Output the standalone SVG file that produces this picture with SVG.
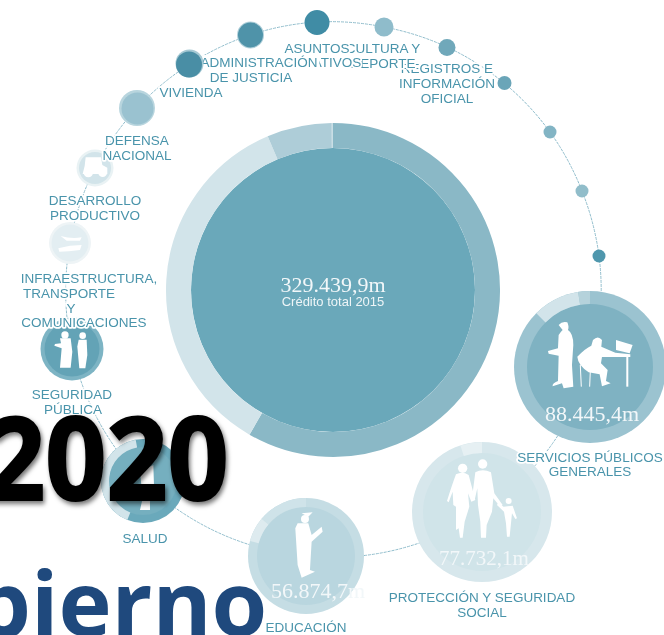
<svg xmlns="http://www.w3.org/2000/svg" width="664" height="635" viewBox="0 0 664 635">
<style>
.lb{font-family:"Liberation Sans",Arial,sans-serif;font-size:13.5px;fill:#4a94ab;text-anchor:middle;paint-order:stroke;stroke:#fff;stroke-width:3.5px;stroke-linejoin:round}
.num{font-family:"Liberation Serif","Times New Roman",serif;font-size:22px;fill:#f2f7f9;text-anchor:middle}
.ic{fill:#fff}
.seg{fill:none}
.conn path{fill:none;stroke:#8fbccb;stroke-width:1;stroke-dasharray:3 1}
</style>
<defs>
<filter id="soft" x="-2%" y="-2%" width="104%" height="104%"><feGaussianBlur stdDeviation="0.35"/></filter>
<filter id="sh" x="-10%" y="-10%" width="120%" height="130%"><feDropShadow dx="2" dy="3" stdDeviation="2.5" flood-color="#000" flood-opacity=".55"/></filter>
</defs>
<rect width="664" height="635" fill="#fff"/>
<g filter="url(#soft)">
<g id="connectors" class="conn">
<path d="M190 64A268 268 0 0 1 250 35"/>
<path d="M250 35A268 268 0 0 1 317 22"/>
<path d="M317 22A268 268 0 0 1 384 27"/>
<path d="M384 27A268 268 0 0 1 447 47"/>
<path d="M447 47A268 268 0 0 1 504 83"/>
<path d="M504 83A268 268 0 0 1 550 132"/>
<path d="M550 132A268 268 0 0 1 582 191"/>
<path d="M582 191A268 268 0 0 1 599 256"/>
<path d="M599 256A268 268 0 0 1 590 367"/>
<path d="M590 367A268 268 0 0 1 482 512"/>
<path d="M482 512A268 268 0 0 1 306 556"/>
<path d="M306 556A268 268 0 0 1 143 481"/>
<path d="M143 481A268 268 0 0 1 72 349"/>
<path d="M72 349A268 268 0 0 1 70 243"/>
<path d="M70 243A268 268 0 0 1 95 168"/>
<path d="M95 168A268 268 0 0 1 137 108"/>
<path d="M137 108A268 268 0 0 1 190 64"/>
</g>
<g id="total">
<circle cx="333" cy="290" r="142" fill="#6aa8ba"/>
<g class="seg" stroke-width="25">
<path d="M331.500 135.500A154.500 154.500 0 0 1 334 135.500" stroke="#c9dee5"/>
<path d="M333 135.500A154.500 154.500 0 1 1 255.750 423.800" stroke="#8ab8c6"/>
<path d="M255.750 423.800A154.500 154.500 0 0 1 272.600 147.800" stroke="#d2e4ea"/>
<path d="M272.600 147.800A154.500 154.500 0 0 1 331.700 135.500" stroke="#aecdd8"/>
</g>
<text class="num" x="333" y="292">329.439,9m</text>
<text x="333" y="306" font-family="Liberation Sans,Arial,sans-serif" font-size="13" fill="#eef5f7" text-anchor="middle">Crédito total 2015</text>
</g>
<g id="node-proteccion">
<circle cx="482" cy="512" r="70" fill="#d7e7ec"/>
<circle cx="482" cy="512" r="59" fill="#d0e4e9"/>
<path class="seg" d="M462.100 450.700A64.500 64.500 0 0 1 482 447.500" stroke="#e6f0f3" stroke-width="11"/>
<g class="ic" transform="translate(332 315) scale(.3333)">
<circle cx="392" cy="460" r="14"/><path d="M372 478Q392 468 410 480L422 525L430 555L418 560L408 535L412 575L398 620L392 668L384 668L380 640L372 645L372 575L364 570L362 530L350 562L345 558Q360 510 372 478Z"/>
<circle cx="452" cy="447" r="14"/><path d="M430 472Q452 460 477 472L487 535L512 570L505 576L484 550L480 590L464 630L462 668L447 668L445 620L438 570L436 520L428 555L420 550Z"/>
<circle cx="530" cy="558" r="9"/><path d="M515 575L542 572L555 610L550 612L540 595L537 625L533 665L525 665L522 625L516 590L495 570L498 565Z"/>
</g>
<text class="num" x="484" y="565" style="font-size:21px">77.732,1m</text>
<text class="lb" x="482" y="602">PROTECCIÓN Y SEGURIDAD</text>
<text class="lb" x="482" y="617">SOCIAL</text>
</g>
<g id="node-servicios">
<circle cx="590" cy="367" r="76" fill="#9bc3d0"/>
<circle cx="590" cy="367" r="63" fill="#7fb2c2"/>
<g class="seg" stroke-width="13">
<path d="M540.900 317.900A69.500 69.500 0 0 1 579.100 298.300" stroke="#d2e4ea"/>
<path d="M579.100 298.300A69.500 69.500 0 0 1 590 297.500" stroke="#b5d2db"/>
</g>
<g class="ic" transform="translate(332 315) scale(.3333)">
<path d="M680 30Q690 18 706 22Q712 35 708 45Q724 55 724 90L720 150L724 215L695 220L690 205L662 214Q660 205 678 198L680 122L650 116L648 108L678 100L680 60Q688 48 692 45Z"/>
<path d="M783 75Q798 60 810 75L808 95L850 113L895 118L895 126L810 126L807 145L827 165L822 198L836 205L810 214L803 178L770 172Q738 150 736 125Q760 100 778 92Z"/>
<path d="M745 150L748 215M775 170L773 215" stroke="#fff" stroke-width="3" fill="none"/>
<rect x="883" y="120" width="6" height="95"/>
<path d="M852 75L902 90L893 115L852 105Z"/>
</g>
<text class="num" x="592" y="421">88.445,4m</text>
<text class="lb" x="590" y="462">SERVICIOS PÚBLICOS</text>
<text class="lb" x="590" y="476">GENERALES</text>
</g>
<g id="node-educacion">
<circle cx="306" cy="556" r="58" fill="#c5dde4"/>
<circle cx="306" cy="556" r="49" fill="#b9d6df"/>
<path class="seg" d="M265 521.600A53.500 53.500 0 0 1 306 502.500" stroke="#cfe3e9" stroke-width="9"/>
<path class="seg" d="M254.300 542.100A53.500 53.500 0 0 1 265 521.600" stroke="#deebef" stroke-width="9"/>
<g class="ic" transform="translate(0 315) scale(.3333)">
<path d="M905 595L938 592L925 605Z"/><circle cx="915" cy="612" r="12"/>
<path d="M893 625L925 625L935 660L965 635L968 650L935 680L930 765L945 770L905 788L893 750L886 640Z"/>
</g>
<text class="num" x="318" y="598">56.874,7m</text>
<text class="lb" x="306" y="632">EDUCACIÓN</text>
</g>
<g id="node-salud">
<circle cx="143" cy="481" r="42" fill="#6ba9bb"/>
<circle cx="143" cy="481" r="34" fill="#74afbf"/>
<path class="seg" d="M128.800 516.200A38 38 0 0 1 136.400 443.600" stroke="#d2e4ea" stroke-width="8"/>
<g class="ic" transform="translate(0 315) scale(.3333)">
<path d="M420 470L460 450L462 510L450 560L450 585L420 585L428 550Z"/>
</g>
<text class="lb" x="145" y="543">SALUD</text>
</g>
<g id="node-seguridad">
<circle cx="72" cy="349" r="31.500" fill="#7db4c4"/>
<circle cx="72" cy="349" r="27.500" fill="#64a3b6"/>
<g class="ic" transform="translate(0 315) scale(.3333)">
<circle cx="195" cy="60" r="11"/><path d="M180 70L212 70L217 110L212 158L180 158L185 100L163 92L165 87L183 85Z"/>
<circle cx="248" cy="62" r="10"/><path d="M236 74L260 74L262 120L256 160L238 160L232 95Z"/>
</g>
<text class="lb" x="72" y="399">SEGURIDAD</text>
<text class="lb" x="73" y="414">PÚBLICA</text>
</g>
<g id="node-infraestructura">
<circle cx="70" cy="243" r="21" fill="#eef4f6"/>
<circle cx="70" cy="243" r="18.500" fill="#e3eef2"/>
<g class="ic" transform="scale(.3333)">
<path d="M182 708Q215 718 245 712L240 722L200 722Z"/><path d="M175 745Q210 735 245 735L240 750Q205 755 178 755Z"/>
</g>
<text class="lb" x="89" y="283">INFRAESTRUCTURA,</text>
<text class="lb" x="69" y="298">TRANSPORTE</text>
<text class="lb" x="71" y="313">Y</text>
<text class="lb" x="84" y="327">COMUNICACIONES</text>
</g>
<g id="node-desarrollo">
<circle cx="95" cy="168" r="18.500" fill="#e9f2f4"/>
<circle cx="95" cy="168" r="16" fill="#d2e4ea"/>
<g class="ic" transform="scale(.3333)">
<path d="M257 472L303 472L307 495L322 503L322 522L248 522L254 498Z"/>
<circle cx="265" cy="518" r="14"/><circle cx="308" cy="518" r="13"/>
</g>
<text class="lb" x="95" y="205">DESARROLLO</text>
<text class="lb" x="95" y="220">PRODUCTIVO</text>
</g>
<g id="node-defensa">
<circle cx="137" cy="108" r="18" fill="#b8d5de"/>
<circle cx="137.500" cy="108.500" r="16" fill="#9ac2d0"/>
<text class="lb" x="137" y="145">DEFENSA</text>
<text class="lb" x="137" y="160">NACIONAL</text>
</g>
<g id="node-dot-1"><circle cx="599" cy="256" r="6.500" fill="#4f97ad"/></g>
<g id="node-dot-2"><circle cx="582" cy="191" r="6.500" fill="#91bdca"/></g>
<g id="node-dot-3"><circle cx="550" cy="132" r="6.500" fill="#82b4c4"/></g>
<g id="node-dot-4"><circle cx="504.500" cy="83" r="7" fill="#6ba5b8"/></g>
<g id="node-registros">
<circle cx="447" cy="47.500" r="8.500" fill="#6fa8ba"/>
<text class="lb" x="447" y="73">REGISTROS E</text>
<text class="lb" x="447" y="88">INFORMACIÓN</text>
<text class="lb" x="447" y="103">OFICIAL</text>
</g>
<g id="node-cultura">
<circle cx="384" cy="27" r="9.500" fill="#8fbccb"/>
<text class="lb" x="383" y="53">CULTURA Y</text>
<text class="lb" x="383" y="68">DEPORTE</text>
</g>
<g id="node-asuntos">
<circle cx="317" cy="22.500" r="12.500" fill="#3f8ca5"/>
<text class="lb" x="317" y="53">ASUNTOS</text>
<text class="lb" x="300" y="67">ADMINISTRATIVOS</text>
</g>
<g id="node-administracion">
<circle cx="250.500" cy="35" r="13.500" fill="#b0d0da"/>
<circle cx="250.500" cy="35" r="12.500" fill="#4f93a9"/>
<text class="lb" x="259" y="67" style="stroke-width:6px">ADMINISTRACIÓN</text>
<text class="lb" x="251" y="82">DE JUSTICIA</text>
</g>
<g id="node-vivienda">
<circle cx="189.500" cy="63.500" r="14" fill="#a5c9d4"/>
<circle cx="189" cy="64.500" r="13" fill="#4a8ea5"/>
<text class="lb" x="191" y="97">VIVIENDA</text>
</g>
</g>
<text x="-16" y="500" transform="translate(-1 0) scale(.93 1)" font-family="Open Sans,sans-serif" font-weight="700" font-size="115" fill="#000" stroke="#000" stroke-width="2" filter="url(#sh)">2020</text>
<text x="-26" y="636" font-family="Open Sans,sans-serif" font-weight="700" font-size="90" fill="#1f497d">bierno</text>
</svg>
